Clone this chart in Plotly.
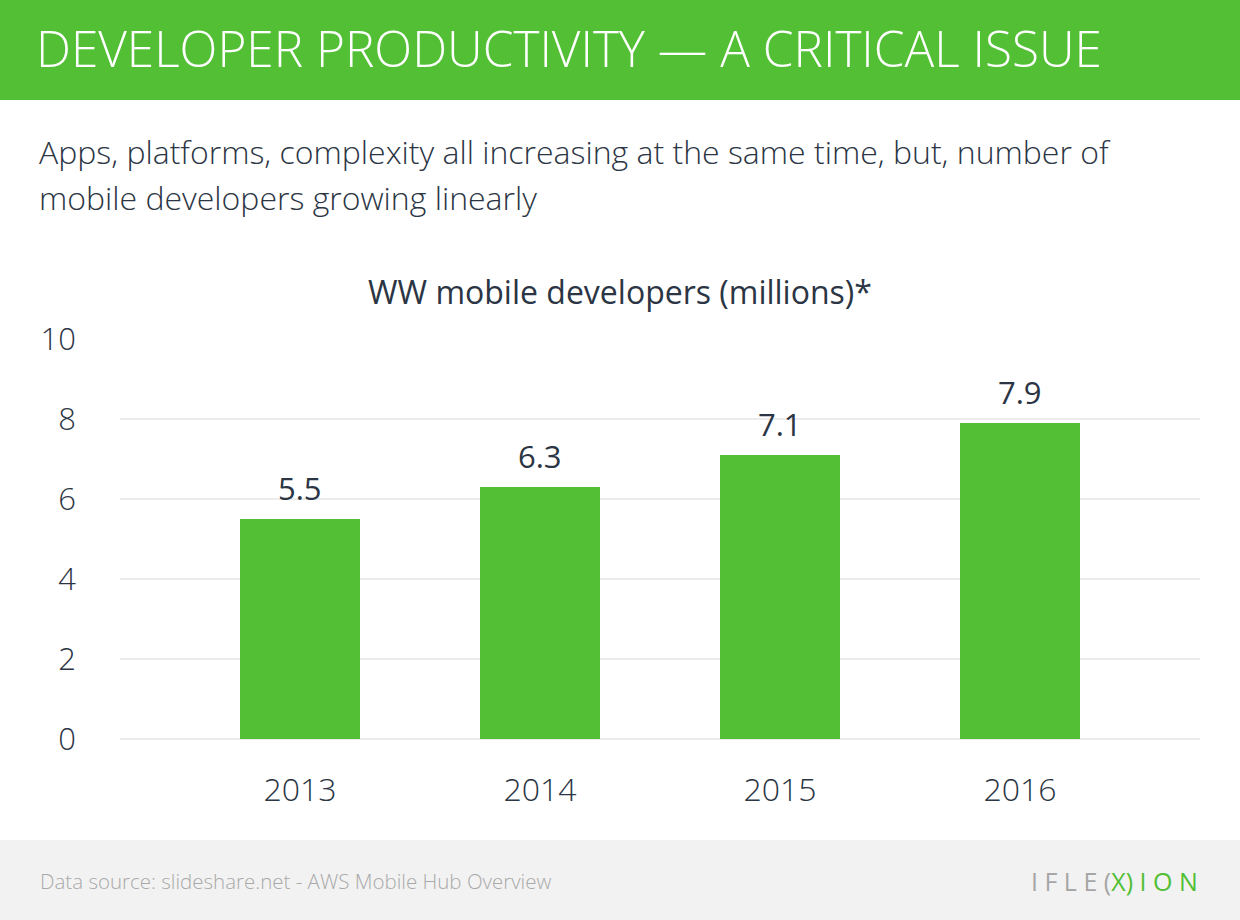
import plotly.graph_objects as go

years = ["2013", "2014", "2015", "2016"]
developers = [5.5, 6.3, 7.1, 7.9]
y_ticks = [0, 2, 4, 6, 8, 10]

GREEN = "#52bf35"
DARK = "#2b3544"
FONT = "Open Sans"
W, H = 1240, 920

def px_x(p):
    return p / W

def px_y(p):
    return 1 - p / H

fig = go.Figure()
fig.add_trace(go.Bar(
    x=list(range(len(years))), y=developers,
    marker=dict(color=GREEN, line=dict(width=0)),
    width=0.5, hoverinfo="skip",
))

for i, v in enumerate(developers):
    fig.add_annotation(x=i, y=v, xref="x", yref="y", text=f"{v:.1f}",
                       showarrow=False, yanchor="bottom", yshift=8,
                       font=dict(family=FONT, size=31, color=DARK, weight=400))

fig.update_xaxes(
    domain=[px_x(120), px_x(1200)], range=[-0.75, 3.75],
    tickmode="array", tickvals=list(range(len(years))), ticktext=years,
    showgrid=False, zeroline=False, showline=False, ticks="",
    tickfont=dict(family=FONT, size=32, color=DARK, weight=300),
    ticklabelstandoff=29, fixedrange=True, automargin=False,
)
fig.update_yaxes(
    domain=[px_y(739), px_y(339)], range=[0, 10],
    tickmode="array", tickvals=y_ticks,
    showgrid=True, gridcolor="#ececec", gridwidth=2,
    zeroline=True, zerolinecolor="#ececec", zerolinewidth=2,
    showline=False, ticks="",
    tickfont=dict(family=FONT, size=31, color=DARK, weight=300),
    ticklabelstandoff=43, fixedrange=True, automargin=False,
)

fig.add_shape(type="rect", xref="paper", yref="paper", x0=0, x1=1, y0=px_y(100), y1=1,
              fillcolor=GREEN, line=dict(width=0), layer="below")
fig.add_shape(type="rect", xref="paper", yref="paper", x0=0, x1=1, y0=0, y1=px_y(840),
              fillcolor="#f2f2f2", line=dict(width=0), layer="below")

fig.add_annotation(x=px_x(34), y=px_y(48), xref="paper", yref="paper",
                   xanchor="left", yanchor="middle", showarrow=False,
                   text="DEVELOPER PRODUCTIVITY — A CRITICAL ISSUE",
                   font=dict(family=FONT, size=49.5, color="white", weight=300))
fig.add_annotation(x=px_x(37), y=px_y(151), xref="paper", yref="paper",
                   xanchor="left", yanchor="middle", showarrow=False,
                   text="Apps, platforms, complexity all increasing at the same time, but, number of",
                   font=dict(family=FONT, size=32, color=DARK, weight=300))
fig.add_annotation(x=px_x(37), y=px_y(198), xref="paper", yref="paper",
                   xanchor="left", yanchor="middle", showarrow=False,
                   text="mobile developers growing linearly",
                   font=dict(family=FONT, size=32, color=DARK, weight=300))
fig.add_annotation(x=px_x(38), y=px_y(881), xref="paper", yref="paper",
                   xanchor="left", yanchor="middle", showarrow=False,
                   text="Data source: slideshare.net - AWS Mobile Hub Overview",
                   font=dict(family=FONT, size=20.5, color="#a9a9a9", weight=300))
fig.add_annotation(x=0.5, y=px_y(291), xref="paper", yref="paper",
                   xanchor="center", yanchor="middle", showarrow=False,
                   text="WW mobile developers (millions)*",
                   font=dict(family=FONT, size=32, color=DARK, weight=400))
fig.add_annotation(x=px_x(1200), y=px_y(881), xref="paper", yref="paper",
                   xanchor="right", yanchor="middle", showarrow=False,
                   text=("<span style='color:#a6a6a6'>I F L E </span>"
                         "<span style='color:#a6a6a6'>(</span><span style='color:#52bf35'>X)</span>"
                         "<span style='color:#52bf35'> I O N</span>"),
                   font=dict(family=FONT, size=25, weight=400))

fig.update_layout(
    width=W, height=H, autosize=False, margin=dict(l=0, r=0, t=0, b=0, pad=0, autoexpand=False),
    paper_bgcolor="white", plot_bgcolor="white",
    showlegend=False, bargap=0.5,
)

fig.write_html(
    "out.html",
    config={"responsive": False, "displayModeBar": False},
    post_script=(
        "document.body.style.margin='0';document.body.style.padding='0';"
        "var gd=document.getElementById('{plot_id}');"
        "gd.style.position='absolute';gd.style.top='0';gd.style.left='0';"
    ),
)
